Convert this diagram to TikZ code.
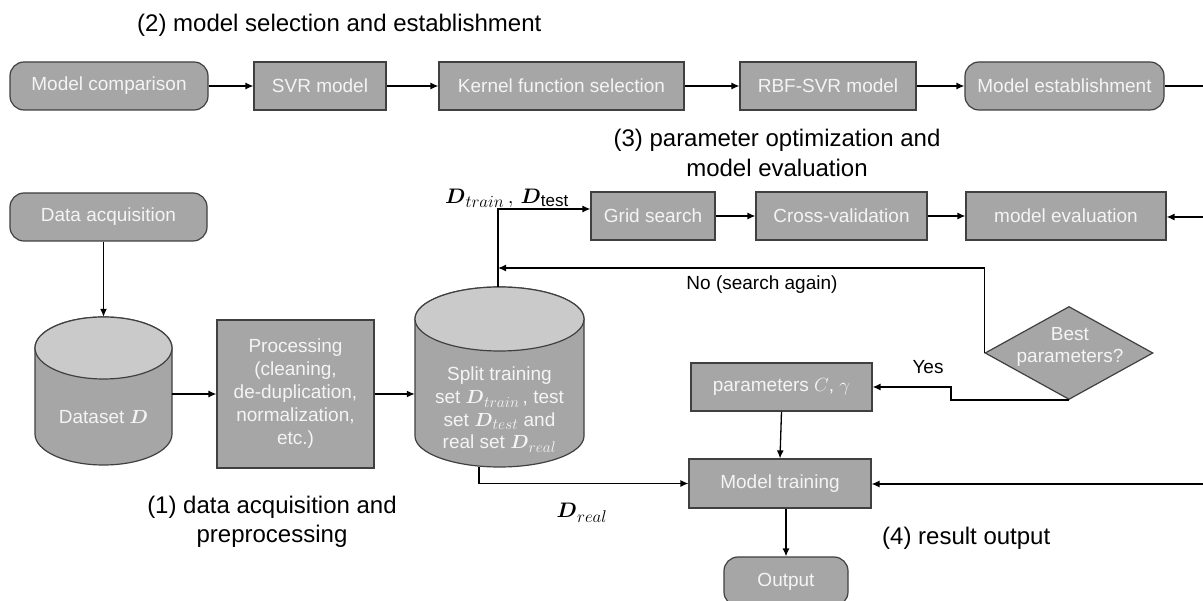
\RequirePackage{fix-cm}
\documentclass[tikz,border=0pt]{standalone}
\usepackage{fontspec}
\setmainfont{Liberation Sans}
\usepackage{amsmath}
\DeclareMathSizes{19}{19}{15.5}{11}
\DeclareMathSizes{21}{21}{17}{12}
\usetikzlibrary{shapes.geometric,arrows.meta,calc}
\definecolor{boxfill}{HTML}{A6A6A6}
\definecolor{topfill}{HTML}{CACACA}
\definecolor{bordercol}{HTML}{404040}
\definecolor{boxtext}{HTML}{F4F4F4}
\begin{document}
\begin{tikzpicture}[x=1pt,y=1pt,
  box/.style={draw=bordercol, line width=1.2pt, fill=boxfill, text=boxtext, inner sep=0pt,
    font=\fontsize{19}{23}\selectfont, align=center},
  rbox/.style={box, rounded corners=14pt},
  arr/.style={-{Latex[length=8pt,width=7pt]}, line width=1.3pt},
  ln/.style={line width=1.3pt},
  sect/.style={font=\fontsize{24}{29.5}\selectfont, align=center, text=black, inner sep=0pt},
  lbl/.style={font=\fontsize{19}{22}\selectfont, text=black, inner sep=0pt},
  mlbl/.style={font=\fontsize{21}{24}\selectfont, text=black, inner sep=0pt},
  ctext/.style={text=boxtext, font=\fontsize{19}{22.6}\selectfont, align=center, inner sep=0pt},
  anchorbox/.style={draw=none, fill=none, inner sep=0pt}]
\clip (0,0) rectangle (1203,-601);
\fill[white] (0,0) rectangle (1203,-601);

% ---- section titles
\node[sect, anchor=west] (t2) at (137,-25) {(2) model selection and establishment};
\node[sect] (t3) at (777,-153) {(3) parameter optimization and\\model evaluation};
\node[sect] (t1) at (272,-522) {(1) data acquisition and\\preprocessing};
\node[sect, anchor=west] (t4) at (882,-538) {(4) result output};

% ---- top row
\node[rbox, minimum width=198pt, minimum height=48pt] (mc) at (109,-86) {Model comparison};
\node[box, minimum width=132pt, minimum height=48pt] (svr) at (320,-86) {SVR model};
\node[box, minimum width=245pt, minimum height=48pt] (kfs) at (561.5,-86) {Kernel function selection};
\node[box, minimum width=176pt, minimum height=48pt] (rbf) at (828,-86) {RBF-SVR model};
\node[rbox, minimum width=199pt, minimum height=48pt] (me) at (1064.5,-86) {Model establishment};
\coordinate (r1) at (1204,-86);

% ---- parameter row
\node[box, minimum width=124pt, minimum height=48pt] (grid) at (653,-216) {Grid search};
\node[box, minimum width=171pt, minimum height=48pt] (cv) at (841.5,-216) {Cross-validation};
\node[box, minimum width=200pt, minimum height=48pt] (mev) at (1066,-216) {model evaluation};
\coordinate (r2) at (1204,-217);

\node[box, diamond, minimum width=168pt, minimum height=93pt] (best) at (1069,-353) {};
\node[ctext] (bestt) at (1070,-347) {Best\\parameters?};
\node[box, minimum width=181pt, minimum height=48pt] (params) at (781.5,-387) {parameters $C$, $\gamma$};
\node[box, minimum width=182pt, minimum height=49pt] (train) at (780,-483.5) {Model training};
\node[rbox, minimum width=124pt, minimum height=49pt] (out) at (786,-581.5) {Output};
\coordinate (r3) at (1204,-484);

% ---- data row
\node[rbox, minimum width=197pt, minimum height=48pt] (acq) at (108.5,-217) {Data acquisition};
\node[box, minimum width=157pt, minimum height=148pt] (proc) at (295.5,-394) {Processing\\(cleaning,\\de-duplication,\\normalization,\\etc.)};

% cylinder: dataset
\node[anchorbox, minimum width=137pt, minimum height=148pt] (ds) at (103.5,-391) {};
\filldraw[draw=bordercol, fill=boxfill, line width=1.2pt]
  (35,-348) -- (35,-434) arc[start angle=180, end angle=360, x radius=68.5, y radius=31]
  -- (172,-348) arc[start angle=0, end angle=180, x radius=68.5, y radius=31] -- cycle;
\filldraw[draw=bordercol, fill=topfill, line width=1.2pt] (103.5,-348) ellipse[x radius=68.5, y radius=31];
\node[ctext] (dst) at (103.5,-417) {Dataset $\boldsymbol{D}$};

% cylinder: split
\node[anchorbox, minimum width=169pt, minimum height=180pt] (split) at (499.5,-377) {};
\filldraw[draw=bordercol, fill=boxfill, line width=1.2pt]
  (415,-319) -- (415,-436) arc[start angle=180, end angle=360, x radius=84.5, y radius=31]
  -- (584,-319) arc[start angle=0, end angle=180, x radius=84.5, y radius=32] -- cycle;
\filldraw[draw=bordercol, fill=topfill, line width=1.2pt] (499.5,-319) ellipse[x radius=84.5, y radius=32];
\node[ctext] (splt) at (499.5,-410) {Split training\\set $\boldsymbol{D}_{train}$\,, test\\set $\boldsymbol{D}_{test}$ and\\real set $\boldsymbol{D}_{real}$};

% ---- labels
\node[mlbl] (ltt) at (507,-198) {$\boldsymbol{D}_{train}\,,\,\boldsymbol{D}_{\mathrm{test}}$};
\node[mlbl] (lreal) at (582,-513) {$\boldsymbol{D}_{real}$};
\node[lbl] (lno) at (762,-285) {No (search again)};
\node[lbl] (lyes) at (928,-367) {Yes};

% ---- connectors
\draw[arr] (mc) -- (svr);
\draw[arr] (svr) -- (kfs);
\draw[arr] (kfs) -- (rbf);
\draw[arr] (rbf) -- (me);
\draw[ln] (me) -- (r1);
\draw[arr] (grid) -- (cv);
\draw[arr] (cv) -- (mev);
\draw[arr] (r2) -- (mev.east |- r2);
\draw[arr] (ds.north |- acq.south) -- (ds.north);
\draw[arr] (ds.east |- proc.west) -- (proc.west);
\draw[arr] (proc.east) -- (proc.east -| split.west);
\draw[arr] ([xshift=-1.5pt]split.north) |- ([yshift=7pt]grid.west);
\coordinate (fb) at (498,-268);
\draw[arr] (best.west) |- (fb);
\coordinate (yk) at (951,-387);
\draw[arr] (best.south) -- (best.south -| yk) -- (yk) -- (params.east);
\draw[arr] (params.south) -- (train.north);
\draw[arr] (train.south -| out.north) -- (out.north);
\draw[arr] (r3) -- (train.east |- r3);
\draw[arr] ([xshift=-20.5pt]split.south) |- (train.west);
\end{tikzpicture}
\end{document}
